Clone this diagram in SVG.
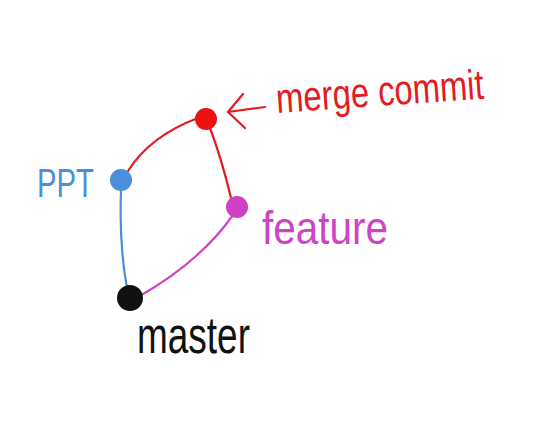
<svg xmlns="http://www.w3.org/2000/svg" width="538" height="422" viewBox="0 0 538 422">
<style>
.lbl{font-family:"Liberation Sans",Arial,sans-serif;font-weight:normal}
.edge{fill:none;stroke-width:2.2;stroke-linecap:round}
</style>
<rect width="538" height="422" fill="#ffffff"/>
<g id="connectors">
<path class="edge" stroke="#e31b23" d="M128,171 Q150,136 198,118"/>
<path class="edge" stroke="#e31b23" d="M210,128 Q222,160 231,198"/>
<path class="edge" stroke="#d044c4" d="M233,215 Q200,262 138,297"/>
<path class="edge" stroke="#4a8fda" d="M121,190 Q119,245 127,288"/>
<path class="edge" stroke="#e31b23" d="M265,107 L228,112 M243,94 L228,112 L245,128"/>
</g>
<g id="node-merge">
<circle cx="206" cy="119" r="11" fill="#ee1111"/>
<text class="lbl" x="277" y="113" font-size="42" fill="#e31b23" textLength="208" lengthAdjust="spacingAndGlyphs" transform="rotate(-4 277 113)">merge commit</text>
</g>
<g id="node-ppt">
<circle cx="121" cy="180" r="11" fill="#4a8fda"/>
<text class="lbl" x="37" y="197" font-size="41" fill="#4a8fda" textLength="57" lengthAdjust="spacingAndGlyphs">PPT</text>
</g>
<g id="node-feature">
<circle cx="237" cy="207" r="11" fill="#d040c4"/>
<text class="lbl" x="262" y="244" font-size="46" fill="#d044c4" textLength="126" lengthAdjust="spacingAndGlyphs">feature</text>
</g>
<g id="node-master">
<circle cx="130" cy="298" r="13" fill="#111111"/>
<text class="lbl" x="137" y="353" font-size="52" fill="#111111" textLength="113" lengthAdjust="spacingAndGlyphs">master</text>
</g>
</svg>
